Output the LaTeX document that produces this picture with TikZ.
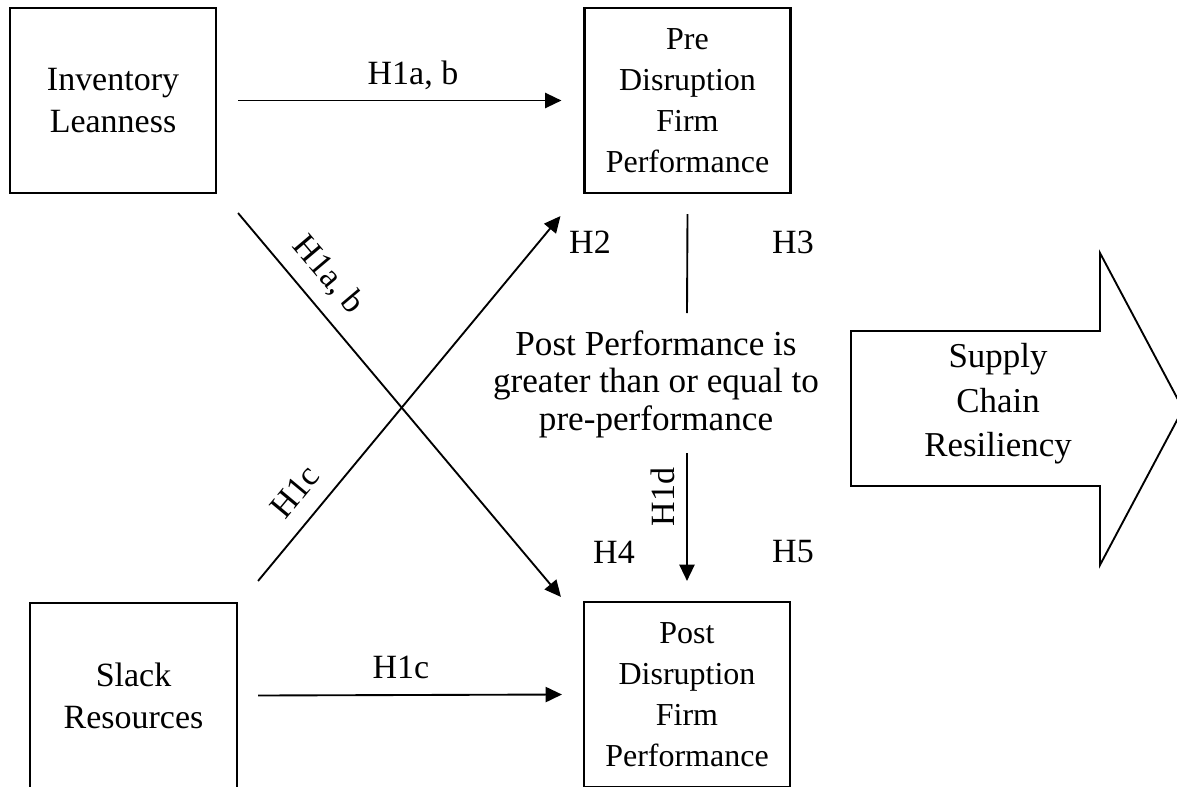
\documentclass[tikz,border=0pt]{standalone}
\usepackage{fontspec}
\setmainfont{Liberation Serif}
\usetikzlibrary{arrows.meta, positioning}
\tikzset{
  factor/.style={
    draw=black,
    line width=1.8pt,
    fill=white,
    minimum width=6.18cm,
    minimum height=5.55cm,
    align=center,
    inner sep=0pt,
    font=\fontsize{27.3}{35}\selectfont
  },
  hyp/.style={
    inner sep=0pt,
    align=center,
    font=\fontsize{29}{33}\selectfont
  },
  link/.style={
    draw=black,
    line width=1.6pt,
    -{Triangle[length=14pt,width=13pt]}
  },
  plain link/.style={
    draw=black,
    line width=1.6pt
  },
  big arrow/.style={
    draw=black,
    line width=1.6pt,
    fill=white
  }
}

\begin{document}
\begin{tikzpicture}[x=0.03cm, y=-0.03cm]
  \useasboundingbox (0,0) rectangle (1177,787);
  \clip (0,0) rectangle (1177,787);

  \node[factor, font=\fontsize{29}{36}\selectfont] (inv) at (113,100.5) {Inventory\\Leanness};
  \node[factor] (pre) at (687.5,100.5) {Pre\\Disruption\\Firm\\Performance};
  \node[factor, minimum width=6.21cm, font=\fontsize{29}{36}\selectfont] (slack) at (133.5,695.5) {Slack\\Resources};
  \node[factor] (post) at (687,694.5) {Post\\Disruption\\Firm\\Performance};

  \node[hyp, font=\fontsize{30}{32}\selectfont] (cond) at (656,384) {Post Performance is\\greater than or equal to\\pre-performance};
  \coordinate (gapT) at (687,313);
  \coordinate (gapB) at (687,453);

  % outcome arrow
  \draw[big arrow] (851,331) -- (1100,331) -- (1100,253) -- (1183,409)
    -- (1100,565) -- (1100,486) -- (851,486) -- cycle;
  \node[hyp, font=\fontsize{29.8}{38}\selectfont] (scr) at (998,404) {Supply\\Chain\\Resiliency};

  \path ([shift={(21,0)}]inv.east) edge[link] ([shift={(-22,0)}]pre.west)
        ([shift={(21,19)}]inv.south east) edge[link] ([shift={(-22,-4)}]post.north west)
        ([shift={(20,-21)}]slack.north east) edge[link] ([shift={(-23,22)}]pre.south west)
        ([shift={(20,0)}]slack.east) edge[link] ([shift={(-21,0)}]post.west)
        ([shift={(0,20)}]pre.south) edge[plain link] (gapT)
        (gapB) edge[link] ([shift={(0,-20)}]post.north);

  \node[hyp] (h1ab) at (413,75) {H1a, b};
  \node[hyp, rotate=-49.8] (h1abx) at (328,275) {H1a, b};
  \node[hyp, rotate=50.3] (h1cx) at (295,492) {H1c};
  \node[hyp] (h1c) at (401,667) {H1c};
  \node[hyp, rotate=90] (h1d) at (663,497) {H1d};
  \node[hyp] (h2) at (590,242) {H2};
  \node[hyp] (h3) at (793,242) {H3};
  \node[hyp] (h4) at (614,552) {H4};
  \node[hyp] (h5) at (793,552) {H5};
\end{tikzpicture}
\end{document}
